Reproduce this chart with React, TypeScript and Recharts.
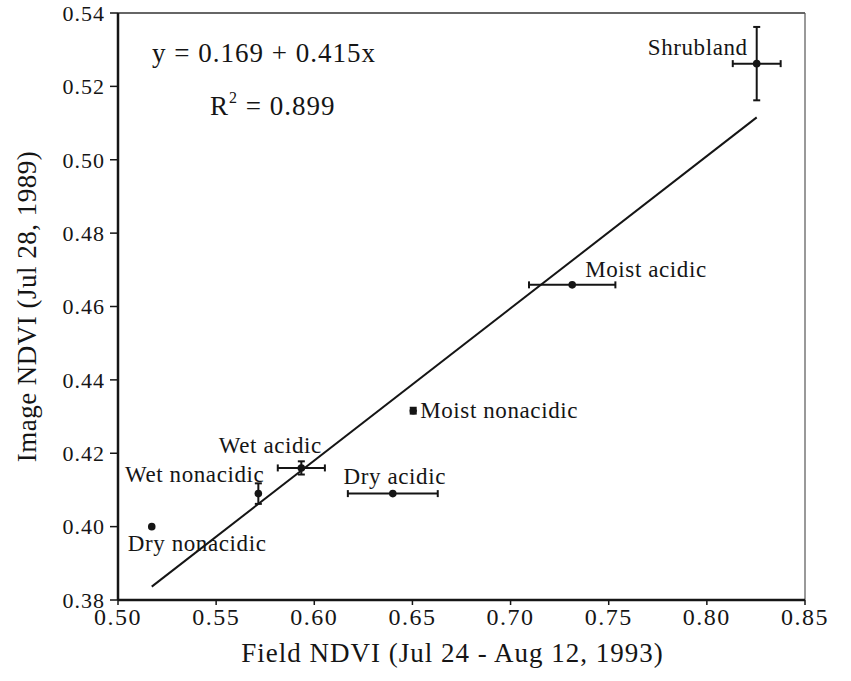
import React from 'react';
import { ScatterChart, Scatter, XAxis, YAxis, ErrorBar, ReferenceLine } from 'recharts';

const categories = ['Dry nonacidic', 'Wet nonacidic', 'Wet acidic', 'Dry acidic', 'Moist nonacidic', 'Moist acidic', 'Shrubland'];
const fieldNDVI = [0.5172, 0.5715, 0.5934, 0.64, 0.6504, 0.7314, 0.8254];
const imageNDVI = [0.4, 0.409, 0.416, 0.409, 0.4316, 0.4659, 0.5262];
const fieldErr = [null, null, 0.012, 0.0229, null, 0.022, 0.0122];
const imageErr = [null, 0.0028, 0.0018, null, 0.0008, null, 0.01];
const xTicks = [0.5, 0.55, 0.6, 0.65, 0.7, 0.75, 0.8, 0.85];
const yTicks = [0.38, 0.4, 0.42, 0.44, 0.46, 0.48, 0.5, 0.52, 0.54];
const intercept = 0.169;
const slope = 0.415;
const r2 = 0.899;

const FONT = '"Liberation Serif", "Times New Roman", serif';
const INK = '#151515';

const labelPlacement: Record<string, { dx: number; dy: number; anchor: 'start' | 'middle' | 'end' }> = {
  Shrubland: { dx: -9, dy: -9, anchor: 'end' },
  'Moist acidic': { dx: 13, dy: -8, anchor: 'start' },
  'Moist nonacidic': { dx: 7, dy: 7, anchor: 'start' },
  'Wet acidic': { dx: -31, dy: -15, anchor: 'middle' },
  'Wet nonacidic': { dx: 6, dy: -12, anchor: 'end' },
  'Dry acidic': { dx: 2, dy: -10, anchor: 'middle' },
  'Dry nonacidic': { dx: -24, dy: 24, anchor: 'start' },
};

const points = categories.map((name, i) => ({
  name,
  x: fieldNDVI[i],
  y: imageNDVI[i],
  xErr: fieldErr[i],
  yErr: imageErr[i],
}));

const xMin = Math.min(...fieldNDVI);
const xMax = Math.max(...fieldNDVI);
const regLine = [
  { x: xMin, y: intercept + slope * xMin },
  { x: xMax, y: intercept + slope * xMax },
];

const PointShape = (props: any) => {
  const { cx, cy, payload } = props;
  const p = labelPlacement[payload.name];
  return (
    <g>
      <circle cx={cx} cy={cy} r={3.8} fill={INK} />
      <text
        x={cx + p.dx}
        y={cy + p.dy}
        textAnchor={p.anchor}
        fontFamily={FONT}
        fontSize={23}
        letterSpacing={0.6}
        fill={INK}
      >
        {payload.name}
      </text>
    </g>
  );
};

export default function App() {
  return (
    <div style={{ position: 'absolute', left: 0, top: 0, width: 851, height: 681, background: '#fff' }}>
      <ScatterChart width={851} height={681} margin={{ top: 13, right: 46, bottom: 0, left: 0 }}>
        <XAxis
          type="number"
          dataKey="x"
          domain={[0.5, 0.85]}
          ticks={xTicks}
          allowDataOverflow
          height={81}
          tickFormatter={(v: number) => v.toFixed(2)}
          tickSize={5}
          tickMargin={3}
          axisLine={{ stroke: INK, strokeWidth: 2.5 }}
          tickLine={{ stroke: INK, strokeWidth: 1.5 }}
          tick={{ fontSize: 24, fill: INK, fontFamily: FONT, letterSpacing: 1.5 }}
          label={{
            content: (props: any) => {
              const vb = props.viewBox;
              return (
                <text
                  x={vb.x + vb.width / 2 - 9}
                  y={vb.y + 62}
                  textAnchor="middle"
                  fontFamily={FONT}
                  fontSize={27}
                  letterSpacing={1}
                  fill={INK}
                >
                  Field NDVI (Jul 24 - Aug 12, 1993)
                </text>
              );
            },
          }}
        />
        <YAxis
          type="number"
          dataKey="y"
          domain={[0.38, 0.54]}
          ticks={yTicks}
          allowDataOverflow
          width={118}
          tickFormatter={(v: number) => v.toFixed(2)}
          tickSize={8}
          tickMargin={5}
          axisLine={{ stroke: INK, strokeWidth: 2.5 }}
          tickLine={{ stroke: INK, strokeWidth: 1.5 }}
          tick={{ fontSize: 22, fill: INK, fontFamily: FONT, letterSpacing: 1 }}
          label={{
            content: (props: any) => {
              const vb = props.viewBox;
              const cx = vb.x + 36;
              const cy = vb.y + vb.height / 2;
              return (
                <text
                  x={cx}
                  y={cy}
                  transform={`rotate(-90, ${cx}, ${cy})`}
                  textAnchor="middle"
                  fontFamily={FONT}
                  fontSize={27}
                  letterSpacing={0.5}
                  fill={INK}
                >
                  Image NDVI (Jul 28, 1989)
                </text>
              );
            },
          }}
        />
        <ReferenceLine y={0.54} stroke="#333" strokeWidth={1.5} ifOverflow="visible" />
        <ReferenceLine x={0.85} stroke="#555" strokeWidth={1.2} ifOverflow="visible" />
        <Scatter
          data={regLine}
          line={{ stroke: INK, strokeWidth: 2 }}
          shape={() => <g />}
          isAnimationActive={false}
        />
        <Scatter data={points} shape={PointShape} isAnimationActive={false}>
          <ErrorBar dataKey="xErr" direction="x" width={3.5} stroke={INK} strokeWidth={2} />
          <ErrorBar dataKey="yErr" direction="y" width={3.5} stroke={INK} strokeWidth={2} />
        </Scatter>
      </ScatterChart>
      <svg
        width={851}
        height={681}
        style={{ position: 'absolute', left: 0, top: 0, pointerEvents: 'none' }}
      >
        <text x={152} y={62} fontFamily={FONT} fontSize={27} letterSpacing={1} fill={INK}>
          {`y = ${intercept.toFixed(3)} + ${slope.toFixed(3)}x`}
        </text>
        <text x={210} y={115} fontFamily={FONT} fontSize={27} letterSpacing={1} fill={INK}>
          <tspan>R</tspan>
          <tspan dy={-12} fontSize={16}>2</tspan>
          <tspan dy={12}>{` = ${r2.toFixed(3)}`}</tspan>
        </text>
      </svg>
    </div>
  );
}
